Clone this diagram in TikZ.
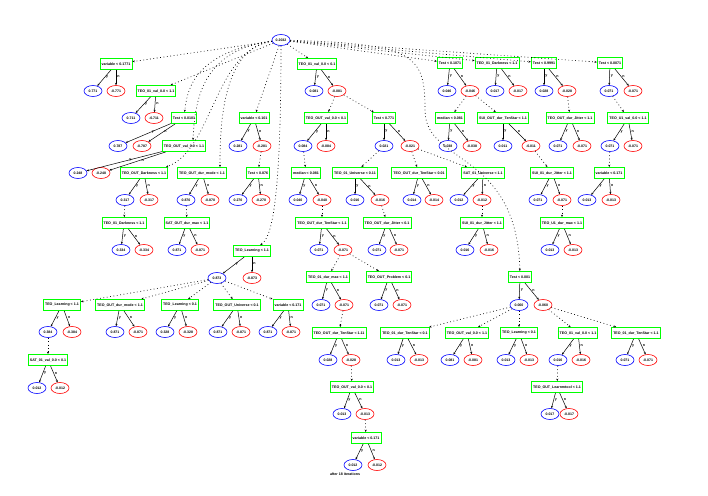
\documentclass[tikz,border=0pt]{standalone}
\usepackage{fontspec}
\setmainfont{Liberation Sans}
\usetikzlibrary{shapes.geometric,arrows.meta}
\definecolor{boxgreen}{RGB}{0,255,0}
\tikzset{
  splitter/.style={draw=boxgreen, line width=.9pt, minimum height=11pt, inner xsep=1.6pt, inner ysep=0pt, font=\fontsize{3.6}{4}\selectfont\bfseries},
  pval/.style={draw=blue, ellipse, line width=.6pt, minimum width=18pt, minimum height=11pt, inner sep=0pt, font=\fontsize{3.5}{4}\selectfont\bfseries},
  nval/.style={pval, draw=red},
  predge/.style={->, line width=.65pt, dash pattern=on .8pt off 2.6pt},
  yn/.style={right, pos=.45, inner sep=1pt, font=\fontsize{3.6}{4}\selectfont\bfseries}
}
\begin{document}
\begin{tikzpicture}[x=1pt, y=-1pt, >={Stealth[length=2.4pt,width=2pt]}, line width=.5pt]
\useasboundingbox (0,0) rectangle (708,495);

\draw (281,40) node[pval] (r) {0.2032};

% left part
\draw (116,64) node[splitter] (b1) {variable < 0.1771};
\draw (93,91) node[pval] (b1y) {0.771} (116,91) node[nval] (b1n) {-0.771};
\draw[->] (b1) -- node[yn] {y} (b1y); \draw[->] (b1) -- node[yn] {n} (b1n);
\draw (156,91) node[splitter] (b2) {TEO\_01\_val\_0.0 < 1.1};
\draw (131,118) node[pval] (b2y) {0.711} (154,118) node[nval] (b2n) {-0.711};
\draw[->] (b2) -- node[yn] {y} (b2y); \draw[->] (b2) -- node[yn] {n} (b2n);
\draw (184,118) node[splitter] (b3) {Test < 0.0101};
\draw (118,146) node[pval] (b3y) {0.787} (142,146) node[nval] (b3n) {-0.787};
\draw[->] (b3) -- node[yn] {y} (b3y); \draw[->] (b3) -- node[yn] {n} (b3n);
\draw (184,146) node[splitter] (b4) {TEO\_OUT\_val\_0.0 < 1.1};
\draw (78,173) node[pval] (b4y) {0.248} (101,173) node[nval] (b4n) {-0.248};
\draw[->] (b4) -- node[yn] {y} (b4y); \draw[->] (b4) -- node[yn] {n} (b4n);
\draw (144,173) node[splitter] (b5) {TEO\_OUT\_Darkness < 1.1};
\draw (125,200) node[pval] (b5y) {0.317} (149,200) node[nval] (b5n) {-0.317};
\draw[->] (b5) -- node[yn] {y} (b5y); \draw[->] (b5) -- node[yn] {n} (b5n);
\draw (202,173) node[splitter] (b6) {TEO\_OUT\_dur\_mode < 1.1};
\draw (186,200) node[pval] (b6y) {0.870} (210,200) node[nval] (b6n) {-0.870};
\draw[->] (b6) -- node[yn] {y} (b6y); \draw[->] (b6) -- node[yn] {n} (b6n);
\draw (254,118) node[splitter] (b7) {variable < 0.101};
\draw (238,146) node[pval] (b7y) {0.281} (262,146) node[nval] (b7n) {-0.281};
\draw[->] (b7) -- node[yn] {y} (b7y); \draw[->] (b7) -- node[yn] {n} (b7n);
\draw (258,173) node[splitter] (b8) {Test < 0.876};
\draw (238,200) node[pval] (b8y) {0.270} (261,200) node[nval] (b8n) {-0.270};
\draw[->] (b8) -- node[yn] {y} (b8y); \draw[->] (b8) -- node[yn] {n} (b8n);
\draw (124,223) node[splitter] (b9) {TEO\_01\_Darkness < 1.1};
\draw (121,250) node[pval] (b9y) {0.334} (144,250) node[nval] (b9n) {-0.334};
\draw[->] (b9) -- node[yn] {y} (b9y); \draw[->] (b9) -- node[yn] {n} (b9n);
\draw (187,223) node[splitter] (b10) {SAT\_OUT\_dur\_max < 1.1};
\draw (177,250) node[pval] (b10y) {0.871} (200,250) node[nval] (b10n) {-0.871};
\draw[->] (b10) -- node[yn] {y} (b10y); \draw[->] (b10) -- node[yn] {n} (b10n);
\draw (252,251) node[splitter] (b11) {TEO\_Learning < 1.1};
\draw (217,278) node[pval] (b11y) {0.873} (252,278) node[nval] (b11n) {-0.873};
\draw[->] (b11) -- node[yn] {y} (b11y); \draw[->] (b11) -- node[yn] {n} (b11n);
\draw (62,305) node[splitter] (b12) {TEO\_Learning < 1.1};
\draw (48,332) node[pval] (b12y) {0.384} (72,332) node[nval] (b12n) {-0.384};
\draw[->] (b12) -- node[yn] {y} (b12y); \draw[->] (b12) -- node[yn] {n} (b12n);
\draw (120,305) node[splitter] (b13) {TEO\_OUT\_dur\_mode < 1.1};
\draw (115,332) node[pval] (b13y) {0.871} (138,332) node[nval] (b13n) {-0.871};
\draw[->] (b13) -- node[yn] {y} (b13y); \draw[->] (b13) -- node[yn] {n} (b13n);
\draw (180,305) node[splitter] (b14) {TEO\_Learning < 0.1};
\draw (165,332) node[pval] (b14y) {0.328} (188,332) node[nval] (b14n) {-0.328};
\draw[->] (b14) -- node[yn] {y} (b14y); \draw[->] (b14) -- node[yn] {n} (b14n);
\draw (237,305) node[splitter] (b15) {TEO\_OUT\_Universe < 0.1};
\draw (218,332) node[pval] (b15y) {0.871} (241,332) node[nval] (b15n) {-0.871};
\draw[->] (b15) -- node[yn] {y} (b15y); \draw[->] (b15) -- node[yn] {n} (b15n);
\draw (288,305) node[splitter] (b16) {variable < 0.171};
\draw (268,332) node[pval] (b16y) {0.871} (291,332) node[nval] (b16n) {-0.871};
\draw[->] (b16) -- node[yn] {y} (b16y); \draw[->] (b16) -- node[yn] {n} (b16n);
\draw (48,360) node[splitter] (b17) {SAT\_01\_val\_0.0 < 0.1};
\draw (37,388) node[pval] (b17y) {0.012} (60,388) node[nval] (b17n) {-0.012};
\draw[->] (b17) -- node[yn] {y} (b17y); \draw[->] (b17) -- node[yn] {n} (b17n);

% middle part
\draw (317,64) node[splitter] (b18) {TEO\_01\_val\_0.0 < 0.1};
\draw (314,91) node[pval] (b18y) {0.081} (337,91) node[nval] (b18n) {-0.081};
\draw[->] (b18) -- node[yn] {y} (b18y); \draw[->] (b18) -- node[yn] {n} (b18n);
\draw (326,118) node[splitter] (b19) {TEO\_OUT\_val\_0.0 < 0.1};
\draw (303,146) node[pval] (b19y) {0.084} (326,146) node[nval] (b19n) {-0.084};
\draw[->] (b19) -- node[yn] {y} (b19y); \draw[->] (b19) -- node[yn] {n} (b19n);
\draw (384,118) node[splitter] (b20) {Test < 0.771};
\draw (384,146) node[pval] (b20y) {0.021} (410,146) node[nval] (b20n) {-0.021};
\draw[->] (b20) -- node[yn] {y} (b20y); \draw[->] (b20) -- node[yn] {n} (b20n);
\draw (306,173) node[splitter] (b21) {median < 0.081};
\draw (298,200) node[pval] (b21y) {0.040} (322,200) node[nval] (b21n) {-0.040};
\draw[->] (b21) -- node[yn] {y} (b21y); \draw[->] (b21) -- node[yn] {n} (b21n);
\draw (355,173) node[splitter] (b22) {TEO\_01\_Universe < 0.11};
\draw (355,200) node[pval] (b22y) {0.016} (380,200) node[nval] (b22n) {-0.016};
\draw[->] (b22) -- node[yn] {y} (b22y); \draw[->] (b22) -- node[yn] {n} (b22n);
\draw (419,173) node[splitter] (b23) {TEO\_OUT\_dur\_TenStar < 0.01};
\draw (412,200) node[pval] (b23y) {0.014} (434,200) node[nval] (b23n) {-0.014};
\draw[->] (b23) -- node[yn] {y} (b23y); \draw[->] (b23) -- node[yn] {n} (b23n);
\draw (483,173) node[splitter] (b24) {SAT\_01\_Universe < 1.1};
\draw (459,200) node[pval] (b24y) {0.012} (482,200) node[nval] (b24n) {-0.012};
\draw[->] (b24) -- node[yn] {y} (b24y); \draw[->] (b24) -- node[yn] {n} (b24n);
\draw (322,223) node[splitter] (b36) {TEO\_OUT\_dur\_TenStar < 1.1};
\draw (319,250) node[pval] (b36y) {0.071} (343,250) node[nval] (b36n) {-0.071};
\draw[->] (b36) -- node[yn] {y} (b36y); \draw[->] (b36) -- node[yn] {n} (b36n);
\draw (387,223) node[splitter] (b37) {TEO\_OUT\_dur\_Jitter < 0.1};
\draw (377,250) node[pval] (b37y) {0.071} (399,250) node[nval] (b37n) {-0.071};
\draw[->] (b37) -- node[yn] {y} (b37y); \draw[->] (b37) -- node[yn] {n} (b37n);
\draw (482,223) node[splitter] (b38) {SUI\_01\_dur\_Jitter < 1.1};
\draw (465,250) node[pval] (b38y) {0.016} (489,250) node[nval] (b38n) {-0.016};
\draw[->] (b38) -- node[yn] {y} (b38y); \draw[->] (b38) -- node[yn] {n} (b38n);
\draw (328,277) node[splitter] (b40) {TEO\_01\_dur\_max < 1.1};
\draw (321,305) node[pval] (b40y) {0.071} (344,305) node[nval] (b40n) {-0.071};
\draw[->] (b40) -- node[yn] {y} (b40y); \draw[->] (b40) -- node[yn] {n} (b40n);
\draw (389,277) node[splitter] (b41) {TEO\_OUT\_Problem < 0.1};
\draw (379,305) node[pval] (b41y) {0.071} (402,305) node[nval] (b41n) {-0.071};
\draw[->] (b41) -- node[yn] {y} (b41y); \draw[->] (b41) -- node[yn] {n} (b41n);
\draw (339,333) node[splitter] (b42) {TEO\_OUT\_dur\_TenStar < 1.11};
\draw (328,360) node[pval] (b42y) {0.028} (351,360) node[nval] (b42n) {-0.028};
\draw[->] (b42) -- node[yn] {y} (b42y); \draw[->] (b42) -- node[yn] {n} (b42n);
\draw (352,387) node[splitter] (b43) {TEO\_OUT\_val\_0.0 < 0.1};
\draw (342,414) node[pval] (b43y) {0.013} (365,414) node[nval] (b43n) {-0.013};
\draw[->] (b43) -- node[yn] {y} (b43y); \draw[->] (b43) -- node[yn] {n} (b43n);
\draw (366,438) node[splitter] (b50) {variable < 0.171};
\draw (353,465) node[pval] (b50y) {0.012} (377,465) node[nval] (b50n) {-0.012};
\draw[->] (b50) -- node[yn] {y} (b50y); \draw[->] (b50) -- node[yn] {n} (b50n);
\draw (345,474) node[font=\fontsize{3.6}{4}\selectfont\bfseries, inner sep=0pt] (iter) {after 18 iterations};

% right part
\draw (450,63) node[splitter] (b26) {Test < 0.1071};
\draw (447,91) node[pval] (b26y) {0.046} (470,91) node[nval] (b26n) {-0.046};
\draw[->] (b26) -- node[yn] {y} (b26y); \draw[->] (b26) -- node[yn] {n} (b26n);
\draw (450,118) node[splitter] (b25) {median < 0.081};
\draw (448,146) node[pval] (b25y) {0.038} (472,146) node[nval] (b25n) {-0.038};
\draw[->] (b25) -- node[yn] {y} (b25y); \draw[->] (b25) -- node[yn] {n} (b25n);
\draw (503,118) node[splitter] (b27) {SUI\_OUT\_dur\_TenStar < 1.1};
\draw (503,146) node[pval] (b27y) {0.011} (531,146) node[nval] (b27n) {-0.011};
\draw[->] (b27) -- node[yn] {y} (b27y); \draw[->] (b27) -- node[yn] {n} (b27n);
\draw (497,63) node[splitter] (b28) {TEO\_01\_Darkness < 1.1};
\draw (495,91) node[pval] (b28y) {0.017} (518,91) node[nval] (b28n) {-0.017};
\draw[->] (b28) -- node[yn] {y} (b28y); \draw[->] (b28) -- node[yn] {n} (b28n);
\draw (544,63) node[splitter] (b29) {Test < 0.9991};
\draw (544,91) node[pval] (b29y) {0.028} (567,91) node[nval] (b29n) {-0.028};
\draw[->] (b29) -- node[yn] {y} (b29y); \draw[->] (b29) -- node[yn] {n} (b29n);
\draw (570,118) node[splitter] (b31) {TEO\_OUT\_dur\_Jitter < 1.1};
\draw (558,146) node[pval] (b31y) {0.071} (582,146) node[nval] (b31n) {-0.071};
\draw[->] (b31) -- node[yn] {y} (b31y); \draw[->] (b31) -- node[yn] {n} (b31n);
\draw (610,63) node[splitter] (b32) {Test < 0.0071};
\draw (609,91) node[pval] (b32y) {0.071} (633,91) node[nval] (b32n) {-0.071};
\draw[->] (b32) -- node[yn] {y} (b32y); \draw[->] (b32) -- node[yn] {n} (b32n);
\draw (628,118) node[splitter] (b33) {TEO\_U1\_val\_0.0 < 1.1};
\draw (610,146) node[pval] (b33y) {0.071} (633,146) node[nval] (b33n) {-0.071};
\draw[->] (b33) -- node[yn] {y} (b33y); \draw[->] (b33) -- node[yn] {n} (b33n);
\draw (609,173) node[splitter] (b34) {variable < 0.171};
\draw (587,200) node[pval] (b34y) {0.013} (611,200) node[nval] (b34n) {-0.013};
\draw[->] (b34) -- node[yn] {y} (b34y); \draw[->] (b34) -- node[yn] {n} (b34n);
\draw (552,173) node[splitter] (b35) {SUI\_01\_dur\_Jitter < 1.1};
\draw (538,200) node[pval] (b35y) {0.071} (562,200) node[nval] (b35n) {-0.071};
\draw[->] (b35) -- node[yn] {y} (b35y); \draw[->] (b35) -- node[yn] {n} (b35n);
\draw (562,223) node[splitter] (b39) {TEO\_U1\_dur\_max < 1.1};
\draw (550,250) node[pval] (b39y) {0.013} (573,250) node[nval] (b39n) {-0.013};
\draw[->] (b39) -- node[yn] {y} (b39y); \draw[->] (b39) -- node[yn] {n} (b39n);
\draw (520,277) node[splitter] (b30) {Test < 0.001};
\draw (519,305) node[pval] (b30y) {0.060} (543,305) node[nval] (b30n) {-0.060};
\draw[->] (b30) -- node[yn] {y} (b30y); \draw[->] (b30) -- node[yn] {n} (b30n);
\draw (405,333) node[splitter] (b44) {TEO\_01\_dur\_TenStar < 0.1};
\draw (396,360) node[pval] (b44y) {0.013} (419,360) node[nval] (b44n) {-0.013};
\draw[->] (b44) -- node[yn] {y} (b44y); \draw[->] (b44) -- node[yn] {n} (b44n);
\draw (467,333) node[splitter] (b45) {TEO\_OUT\_val\_0.0 < 1.1};
\draw (450,360) node[pval] (b45y) {0.081} (473,360) node[nval] (b45n) {-0.081};
\draw[->] (b45) -- node[yn] {y} (b45y); \draw[->] (b45) -- node[yn] {n} (b45n);
\draw (519,333) node[splitter] (b46) {TEO\_Learning < 0.1};
\draw (506,360) node[pval] (b46y) {0.013} (529,360) node[nval] (b46n) {-0.013};
\draw[->] (b46) -- node[yn] {y} (b46y); \draw[->] (b46) -- node[yn] {n} (b46n);
\draw (578,333) node[splitter] (b47) {TEO\_01\_val\_0.0 < 1.1};
\draw (558,360) node[pval] (b47y) {0.016} (581,360) node[nval] (b47n) {-0.016};
\draw[->] (b47) -- node[yn] {y} (b47y); \draw[->] (b47) -- node[yn] {n} (b47n);
\draw (636,333) node[splitter] (b48) {TEO\_01\_dur\_TenStar < 1.1};
\draw (625,360) node[pval] (b48y) {0.071} (648,360) node[nval] (b48n) {-0.071};
\draw[->] (b48) -- node[yn] {y} (b48y); \draw[->] (b48) -- node[yn] {n} (b48n);
\draw (557,387) node[splitter] (b49) {TEO\_OUT\_Learnmtool < 1.1};
\draw (550,414) node[pval] (b49y) {0.017} (569,414) node[nval] (b49n) {-0.017};
\draw[->] (b49) -- node[yn] {y} (b49y); \draw[->] (b49) -- node[yn] {n} (b49n);

% dotted edges from the root
\draw[predge] (r) -- (b1);
\draw[predge] (r) -- (b2);
\draw[predge] (r) .. controls (194,52) and (187,90) .. (b3);
\draw[predge] (r) .. controls (202,50) and (195,100) .. ([xshift=9pt]b4.north);
\draw[predge] (r) .. controls (214,50) and (213,150) .. ([xshift=22pt]b5.north);
\draw[predge] (r) .. controls (221,48) and (220,130) .. ([xshift=18pt]b6.north);
\draw[predge] (r) -- (b7);
\draw[predge] (r) .. controls (281,215) and (270,238) .. (b11);
\draw[predge] (r) -- (b18);
\draw[predge] (r) -- (b26);
\draw[predge] (r) -- (b28);
\draw[predge] (r) -- (b29);
\draw[predge] (r) -- (b32);
\draw[predge] (r) .. controls (415,44) and (425,55) .. (425,110) .. controls (425,165) and (517,150) .. (b30);

% dotted edges from the other values
\draw[predge] (b7n) -- (b8);
\draw[predge] (b5y) -- (b9);
\draw[predge] (b6y) -- (b10);
\draw[predge] (b11y) -- (b12);
\draw[predge] (b11y) -- (b13);
\draw[predge] (b11y) -- (b14);
\draw[predge] (b11y) -- (b15);
\draw[predge] (b11y) -- (b16);
\draw[predge] (b12y) -- (b17);
\draw[predge] (b18n) -- (b19);
\draw[predge] (b18n) -- (b20);
\draw[predge] (b19y) -- (b21);
\draw[predge] (b20y) -- (b22);
\draw[predge] (b20n) -- (b23);
\draw[predge] (b20n) -- (b24);
\draw[predge] (b26n) -- (b25);
\draw[predge] (b26n) -- (b27);
\draw[predge] (b29n) -- (b31);
\draw[predge] (b32y) -- (b33);
\draw[predge] (b33y) -- (b34);
\draw[predge] (b27n) -- (b35);
\draw[predge] (b21n) -- (b36);
\draw[predge] (b22n) -- (b37);
\draw[predge] (b24n) -- (b38);
\draw[predge] (b35n) -- (b39);
\draw[predge] (b36n) -- (b40);
\draw[predge] (b36n) -- (b41);
\draw[predge] (b40n) -- (b42);
\draw[predge] (b42n) -- (b43);
\draw[predge] (b43n) -- (b50);
\draw[predge] (b30y) -- (b44);
\draw[predge] (b30y) -- (b45);
\draw[predge] (b30y) -- (b46);
\draw[predge] (b30n) -- (b47);
\draw[predge] (b30n) -- (b48);
\draw[predge] (b47y) -- (b49);
\end{tikzpicture}
\end{document}
